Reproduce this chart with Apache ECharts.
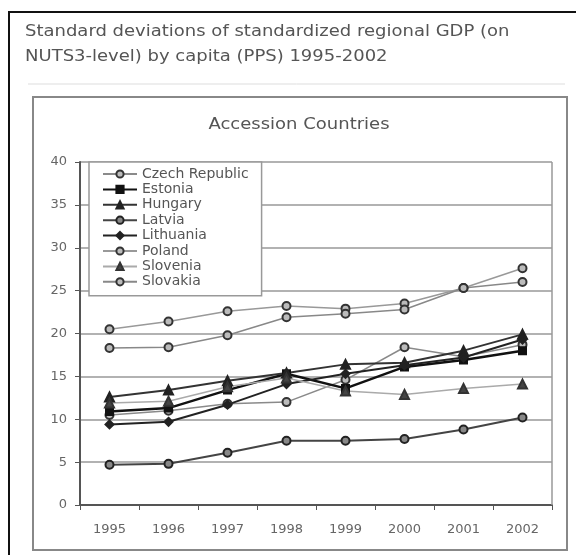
<!DOCTYPE html>
<html>
<head>
<meta charset="utf-8">
<script src="https://cdn.jsdelivr.net/npm/echarts@6/dist/echarts.min.js"></script>
<style>
html,body{margin:0;padding:0;background:#fff;}
#c{width:576px;height:555px;}
</style>
</head>
<body>
<div id="c"></div>
<script>
const years = ['1995','1996','1997','1998','1999','2000','2001','2002'];
const yTicks = [0,5,10,15,20,25,30,35,40];
const czech     = [10.5, 11.0, 11.8, 12.0, 14.6, 18.4, 17.3, 18.7];
const estonia   = [10.9, 11.3, 13.4, 15.3, 13.6, 16.1, 16.9, 18.0];
const hungary   = [12.6, 13.4, 14.5, 15.4, 16.4, 16.6, 18.0, 19.9];
const latvia    = [4.7, 4.8, 6.1, 7.5, 7.5, 7.7, 8.8, 10.2];
const lithuania = [9.4, 9.7, 11.7, 14.1, 15.3, 16.3, 17.2, 19.3];
const poland    = [20.5, 21.4, 22.6, 23.2, 22.9, 23.5, 25.3, 27.6];
const slovenia  = [11.9, 12.1, 13.8, 14.8, 13.3, 12.9, 13.6, 14.1];
const slovakia  = [18.3, 18.4, 19.8, 21.9, 22.3, 22.8, 25.3, 26.0];
const names = ['Czech Republic','Estonia','Hungary','Latvia','Lithuania','Poland','Slovenia','Slovakia'];

const FONT = 'DejaVu Sans, Verdana, sans-serif';

function mk(name, data, lineColor, lineWidth, symbol, size, fill, border) {
  return {
    name: name, type: 'line', data: data, symbol: symbol, symbolSize: size,
    showAllSymbol: true, animation: false,
    lineStyle: {color: lineColor, width: lineWidth},
    itemStyle: {color: fill, borderColor: border, borderWidth: 2},
    emphasis: {disabled: true}
  };
}

const chart = echarts.init(document.getElementById('c'), null, {renderer: 'canvas'});
chart.setOption({
  animation: false,
  backgroundColor: '#fff',
  textStyle: {fontFamily: FONT},
  graphic: [
    {type: 'rect', shape: {x: 9, y: 12, width: 620, height: 620}, style: {fill: 'none', stroke: '#111', lineWidth: 2}, z: 0},
    {type: 'line', shape: {x1: 28, y1: 84, x2: 565, y2: 84}, style: {stroke: '#ddd', lineWidth: 1}},
    {type: 'rect', shape: {x: 33, y: 97, width: 534, height: 453}, style: {fill: 'none', stroke: '#888', lineWidth: 2}},
    {type: 'text', x: 25, y: 20, scaleX: 1.2, style: {text: 'Standard deviations of standardized regional GDP (on\nNUTS3-level) by capita (PPS) 1995-2002', fill: '#555', font: '15px ' + FONT, lineHeight: 25}},
    {type: 'text', x: 299, y: 118, scaleX: 1.2, style: {text: 'Accession Countries', fill: '#555', font: '15px ' + FONT, align: 'center'}},
    {type: 'line', shape: {x1: 552, y1: 162, x2: 552, y2: 505}, style: {stroke: '#999', lineWidth: 1.5}, z: 1}
  ],
  grid: {left: 80, right: 24, top: 162, bottom: 50},
  legend: {
    orient: 'vertical', left: 89, top: 162, data: names,
    itemWidth: 34, itemHeight: 9, itemGap: 1.4,
    padding: [5, 13, 7, 13],
    backgroundColor: '#fff', borderColor: '#999', borderWidth: 1.5,
    textStyle: {fontSize: 14, color: '#555', fontFamily: FONT},
    selectedMode: false
  },
  xAxis: {
    type: 'category', data: years, boundaryGap: true,
    axisLine: {lineStyle: {color: '#555', width: 2}},
    axisTick: {show: true, alignWithLabel: false, length: 5, lineStyle: {color: '#555'}},
    axisLabel: {color: '#666', fontSize: 13, margin: 18, fontFamily: FONT}
  },
  yAxis: {
    type: 'value', min: 0, max: 40, interval: 5,
    axisLine: {show: true, lineStyle: {color: '#555', width: 2}},
    axisTick: {show: true, length: 5, lineStyle: {color: '#555'}},
    axisLabel: {color: '#666', fontSize: 13, margin: 13, fontFamily: FONT},
    splitLine: {show: true, lineStyle: {color: '#999', width: 1.5}}
  },
  series: [
    mk('Czech Republic', czech, '#8a8a8a', 1.5, 'circle', 8, '#bbb', '#333'),
    mk('Estonia', estonia, '#111', 2.5, 'rect', 7, '#111', '#111'),
    mk('Hungary', hungary, '#333', 2, 'triangle', 9, '#222', '#222'),
    mk('Latvia', latvia, '#444', 2, 'circle', 8, '#888', '#222'),
    mk('Lithuania', lithuania, '#222', 2, 'diamond', 8, '#222', '#222'),
    mk('Poland', poland, '#999', 1.5, 'circle', 8, '#bbb', '#333'),
    mk('Slovenia', slovenia, '#aaa', 1.5, 'triangle', 9, '#444', '#333'),
    mk('Slovakia', slovakia, '#888', 1.5, 'circle', 8, '#bbb', '#333')
  ]
});
</script>
</body>
</html>
